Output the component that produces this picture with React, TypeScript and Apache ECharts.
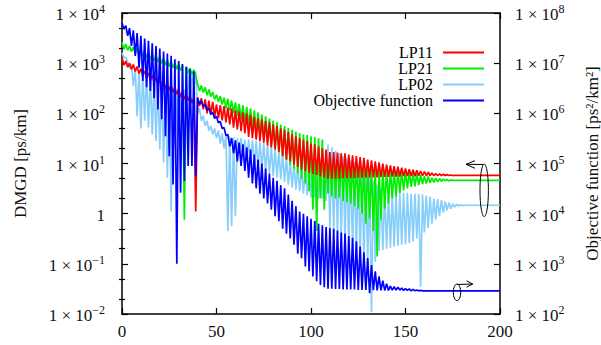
import React, { useEffect, useRef } from 'react';
import * as echarts from 'echarts';

// iteration index (x)
const ITERATIONS = Array.from({ length: 201 }, (_, i) => i);

// DMGD of LP11 [ps/km]
const LP11 = [
  1300, 910, 1100, 830, 1000, 750, 940, 680, 860, 620,
  780, 560, 700, 510, 640, 460, 580, 420, 530, 380,
  480, 350, 430, 310, 390, 290, 360, 260, 330, 240,
  300, 210, 270, 190, 240, 180, 220, 160, 200, 1.1,
  210, 140, 200, 120, 190, 100, 180, 95, 170, 85,
  150, 80, 145, 72, 140, 66, 130, 60, 125, 52,
  115, 48, 110, 44, 105, 40, 100, 34, 93, 32,
  85, 30, 80, 28, 76, 26, 70, 23, 66, 21,
  60, 19, 56, 17, 50, 14, 47, 12, 43, 11,
  38, 9.5, 35, 8.5, 32, 7.5, 30, 7.0, 28, 6.5,
  25, 6.2, 24, 5.9, 22, 5.5, 20, 5.2, 19, 5.0,
  17, 5.0, 17, 5.0, 16.5, 5.0, 16, 5.1, 16, 5.1,
  15, 5.1, 14.5, 5.1, 14, 5.2, 13.5, 5.2, 13, 5.2,
  12, 5.3, 11.5, 5.3, 11, 5.3, 10.5, 5.4, 10, 5.4,
  9.5, 5.4, 9.2, 5.5, 8.9, 5.5, 8.6, 5.5, 8.3, 5.6,
  8.0, 5.6, 7.7, 5.6, 7.5, 5.6, 7.3, 5.7, 7.1, 5.7,
  6.9, 5.7, 6.7, 5.7, 6.5, 5.7, 6.3, 5.7, 6.2, 5.75,
  6.1, 5.75, 6.0, 5.75, 5.9, 5.75, 5.8, 5.8, 5.8, 5.8,
  5.8, 5.8, 5.8, 5.8, 5.8, 5.8, 5.8, 5.8, 5.8, 5.8,
  5.8, 5.8, 5.8, 5.8, 5.8, 5.8, 5.8, 5.8, 5.8, 5.8,
  5.8,
];

// DMGD of LP21 [ps/km]
const LP21 = [
  2600, 1900, 2400, 1800, 2200, 1700, 2100, 1550, 2000, 1450,
  1860, 1350, 1740, 1290, 1620, 1200, 1510, 1120, 1410, 1050,
  1350, 980, 1260, 910, 1170, 850, 1100, 810, 1020, 760,
  955, 710, 910, 0.76, 850, 630, 790, 600, 740, 560,
  380, 280, 360, 260, 330, 230, 300, 215, 265, 190,
  235, 170, 220, 150, 205, 126, 195, 112, 180, 100,
  165, 89, 155, 76, 145, 66, 135, 58, 126, 50,
  115, 43, 105, 36, 95, 32, 87, 27, 79, 23,
  72, 20, 66, 16.6, 60, 14, 56, 11.7, 51, 9.5,
  47, 7.9, 43, 6.3, 40, 5.0, 38, 4.0, 37, 2.8,
  35, 1.2, 34, 0.45, 32, 2.0, 30, 1.2, 14, 2.5,
  14, 2.2, 13, 2.0, 12.6, 2.1, 12, 1.8, 11.5, 1.7,
  11, 1.6, 10.5, 1.4, 10, 1.26, 9.5, 1.0, 9.1, 0.63,
  8.9, 0.8, 8.7, 0.45, 8.5, 0.14, 8.3, 0.76, 8.1, 1.26,
  7.9, 1.6, 7.8, 2.0, 7.6, 2.2, 7.4, 2.6, 7.2, 2.9,
  7.1, 3.2, 6.8, 3.4, 6.5, 3.5, 6.2, 3.7, 5.9, 3.9,
  5.6, 4.0, 5.5, 4.1, 5.2, 4.2, 5.1, 4.3, 5.0, 4.4,
  4.9, 4.5, 4.8, 4.5, 4.7, 4.6, 4.6, 4.6, 4.6, 4.6,
  4.6, 4.6, 4.6, 4.6, 4.6, 4.6, 4.6, 4.6, 4.6, 4.6,
  4.6, 4.6, 4.6, 4.6, 4.6, 4.6, 4.6, 4.6, 4.6, 4.6,
  4.6,
];

// DMGD of LP02 [ps/km]
const LP02 = [
  1600, 1300, 1300, 1050, 790, 950, 350, 800, 87, 720,
  50, 650, 71, 600, 52, 540, 38, 490, 28, 450,
  19, 410, 10.5, 370, 5.2, 340, 1.1, 310, 25, 280,
  40, 260, 63, 300, 100, 790, 160, 700, 320, 690,
  100, 126, 71, 89, 56, 71, 45, 56, 38, 50,
  32, 45, 25, 40, 20, 38, 0.45, 35, 0.56, 33,
  0.89, 32, 16, 32, 14, 30, 11, 30, 10, 29,
  8.9, 28, 8.3, 27, 7.6, 26, 6.9, 24, 6.3, 22,
  5.6, 20, 5.2, 18, 4.8, 16, 4.3, 13, 3.8, 11,
  3.3, 10, 3.0, 8.9, 2.8, 8.3, 2.5, 7.9, 2.3, 7.9,
  2.1, 7.6, 2.1, 7.6, 2.0, 7.4, 2.0, 7.4, 1.8, 24,
  0.5, 21, 0.42, 18, 0.35, 16, 0.3, 14, 0.25, 12.6,
  0.21, 11.5, 0.18, 10.7, 0.16, 9.5, 0.13, 8.3, 0.11, 7.1,
  0.1, 5.6, 0.011, 4.5, 0.11, 3.8, 0.18, 3.2, 0.19, 2.7,
  0.2, 2.5, 0.21, 2.5, 0.22, 2.6, 0.23, 2.6, 0.24, 2.6,
  0.25, 2.6, 0.26, 2.5, 0.28, 2.5, 0.32, 2.5, 0.035, 2.4,
  0.42, 2.3, 0.52, 2.2, 0.63, 2.0, 0.76, 1.95, 0.89, 1.86,
  1.05, 1.74, 1.17, 1.66, 1.26, 1.58, 1.35, 1.55, 1.41, 1.51,
  1.45, 1.47, 1.47, 1.47, 1.47, 1.47, 1.47, 1.47, 1.47, 1.47,
  1.47, 1.47, 1.47, 1.47, 1.47, 1.47, 1.47, 1.47, 1.47, 1.47,
  1.47,
];

// Objective function [ps^2/km^2]
const OBJECTIVE = [
  6.3e7, 4.8e7, 5.6e7, 3.5e7, 5.0e7, 2.2e7, 4.5e7, 1.4e7, 4.0e7, 8.1e6,
  3.5e7, 4.4e6, 3.1e7, 3.3e6, 2.8e7, 2.8e6, 2.5e7, 2.0e6, 2.2e7, 1.2e6,
  1.95e7, 7.6e5, 1.7e7, 3.5e5, 1.55e7, 1.4e5, 1.4e7, 3.8e4, 1.2e7, 1.0e3,
  1.1e7, 2.6e4, 9.6e6, 4.5e4, 8.5e6, 8.9e4, 7.6e6, 8.9e4, 6.8e6, 5.6e4,
  2.0e6, 1.55e6, 1.75e6, 1.35e6, 1.5e6, 1.15e6, 1.26e6, 9.5e5, 1.05e6, 7.9e5,
  8.7e5, 6.5e5, 6.9e5, 5.0e5, 5.2e5, 3.6e5, 3.8e5, 2.2e5, 3.2e5, 1.6e5,
  2.9e5, 1.1e5, 2.6e5, 8.9e4, 2.4e5, 7.1e4, 2.1e5, 5.2e4, 1.9e5, 4.0e4,
  1.5e5, 3.2e4, 1.2e5, 2.5e4, 1.0e5, 2.0e4, 7.9e4, 1.6e4, 6.3e4, 1.2e4,
  5.2e4, 8.9e3, 4.5e4, 7.1e3, 3.7e4, 5.0e3, 3.2e4, 4.0e3, 2.4e4, 3.2e3,
  1.8e4, 2.4e3, 1.4e4, 1.6e3, 1.1e4, 1.3e3, 1.0e4, 890, 8.9e3, 710,
  7.9e3, 560, 7.1e3, 450, 6.3e3, 380, 5.9e3, 340, 5.4e3, 320,
  5.2e3, 320, 5.0e3, 316, 4.6e3, 316, 4.2e3, 310, 4.0e3, 310,
  3.6e3, 310, 3.3e3, 310, 2.8e3, 300, 2.2e3, 300, 1.7e3, 300,
  1.3e3, 260, 950, 300, 710, 295, 560, 295, 460, 295,
  400, 295, 360, 300, 350, 300, 340, 300, 330, 295,
  320, 295, 316, 290, 310, 290, 300, 290, 295, 290,
  290, 290, 290, 290, 290, 290, 290, 290, 290, 290,
  290, 290, 290, 290, 290, 290, 290, 290, 290, 290,
  290, 290, 290, 290, 290, 290, 290, 290, 290, 290,
  290, 290, 290, 290, 290, 290, 290, 290, 290, 290,
  290,
];

const LEGEND_NAMES = ['LP11', 'LP21', 'LP02', 'Objective function'];
const LEFT_MINOR = [0.02, 0.05, 0.2, 0.5, 2, 5, 20, 50, 200, 500, 2000, 5000];
const RIGHT_MINOR = [200, 500, 2e3, 5e3, 2e4, 5e4, 2e5, 5e5, 2e6, 5e6, 2e7, 5e7];

const FONT = 'Times New Roman';
const BLACK = '#000';
const TEXT = '#111';

const powLabel = (v: number) => {
  const e = Math.round(Math.log10(v));
  if (e === 0) return '{b|1}';
  const exp = e < 0 ? '\u2212' + String(-e) : String(e);
  return `{b|1 × 10}{s|${exp}}`;
};

const rich = {
  b: { fontSize: 17, fontFamily: FONT, color: TEXT, lineHeight: 20, verticalAlign: 'bottom' },
  s: { fontSize: 12, fontFamily: FONT, color: TEXT, lineHeight: 10, verticalAlign: 'top' },
};

const axisLineStyle = { color: BLACK, width: 1.5 };
const tickStyle = { color: BLACK, width: 1.2 };

function buildOption() {
  const mk = (name: string, values: number[], color: string, yAxisIndex: number) => ({
    type: 'line',
    name,
    yAxisIndex,
    data: values.map((v, i) => [ITERATIONS[i], v]),
    symbol: 'none',
    showSymbol: false,
    silent: true,
    lineStyle: { color, width: 1.7 },
    itemStyle: { color },
    emphasis: { disabled: true },
  });

  return {
    animation: false,
    backgroundColor: '#fff',
    textStyle: { fontFamily: FONT },
    grid: { left: 122, right: 101, top: 13, bottom: 31, containLabel: false, outerBoundsMode: 'none' },
    legend: LEGEND_NAMES.map((name, k) => ({
      data: [name],
      right: 117,
      top: 44.5 + k * 16,
      orient: 'vertical',
      align: 'right',
      icon: 'rect',
      itemWidth: 41,
      itemHeight: 2,
      padding: 0,
      selectedMode: false,
      textStyle: { fontSize: 16, fontFamily: FONT, color: BLACK, lineHeight: 16, padding: [0, 5, 0, 0] },
    })),
    xAxis: [
      {
        type: 'value', min: 0, max: 200, interval: 50, position: 'bottom',
        axisLine: { show: true, onZero: false, lineStyle: axisLineStyle },
        axisTick: { show: true, inside: true, length: 6, lineStyle: tickStyle },
        axisLabel: { fontSize: 17, fontFamily: FONT, color: TEXT, margin: 9 },
        splitLine: { show: false },
      },
      {
        type: 'value', min: 0, max: 200, interval: 50, position: 'top',
        axisLine: { show: true, onZero: false, lineStyle: axisLineStyle },
        axisTick: { show: true, inside: true, length: 6, lineStyle: tickStyle },
        axisLabel: { show: false },
        splitLine: { show: false },
      },
    ],
    yAxis: [
      {
        type: 'log', logBase: 10, min: 0.01, max: 1e4, position: 'left',
        axisLine: { show: true, onZero: false, lineStyle: axisLineStyle },
        axisTick: { show: true, inside: true, length: 6, lineStyle: tickStyle },
        axisLabel: { formatter: powLabel, rich, margin: 17 },
        splitLine: { show: false },
        name: 'DMGD [ps/km]',
        nameLocation: 'middle',
        nameGap: 93,
        nameRotate: 90,
        nameTextStyle: { fontSize: 17, fontFamily: FONT, color: TEXT },
      },
      {
        type: 'log', logBase: 10, min: 1e2, max: 1e8, position: 'right',
        axisLine: { show: true, onZero: false, lineStyle: axisLineStyle },
        axisTick: { show: true, inside: true, length: 6, lineStyle: tickStyle },
        axisLabel: { formatter: powLabel, rich, margin: 15 },
        splitLine: { show: false },
        name: 'Objective function [ps²/km²]',
        nameLocation: 'middle',
        nameGap: 84,
        nameRotate: 90,
        nameTextStyle: { fontSize: 17, fontFamily: FONT, color: TEXT },
      },
      {
        type: 'log', logBase: 10, min: 0.01, max: 1e4, position: 'left',
        axisLine: { show: false },
        axisTick: { show: true, inside: true, length: 3, customValues: LEFT_MINOR, lineStyle: tickStyle },
        axisLabel: { show: false },
        splitLine: { show: false },
      },
      {
        type: 'log', logBase: 10, min: 1e2, max: 1e8, position: 'right',
        axisLine: { show: false },
        axisTick: { show: true, inside: true, length: 3, customValues: RIGHT_MINOR, lineStyle: tickStyle },
        axisLabel: { show: false },
        splitLine: { show: false },
      },
    ],
    graphic: [
      { type: 'ellipse', shape: { cx: 484.2, cy: 190.3, rx: 4.2, ry: 26.3 }, style: { fill: 'none', stroke: BLACK, lineWidth: 1 }, z: 100 },
      { type: 'polyline', shape: { points: [[483, 164.5], [466, 164.3]] }, style: { fill: 'none', stroke: BLACK, lineWidth: 1 }, z: 100 },
      { type: 'polyline', shape: { points: [[475, 160.7], [466, 164.3], [475, 168.3]] }, style: { fill: 'none', stroke: BLACK, lineWidth: 1 }, z: 100 },
      { type: 'ellipse', shape: { cx: 457, cy: 292.3, rx: 3.7, ry: 8.3 }, style: { fill: 'none', stroke: BLACK, lineWidth: 1 }, z: 100 },
      { type: 'polyline', shape: { points: [[457.3, 284.5], [472.7, 284]] }, style: { fill: 'none', stroke: BLACK, lineWidth: 1 }, z: 100 },
      { type: 'polyline', shape: { points: [[466.5, 280.8], [472.7, 284], [466.5, 287.2]] }, style: { fill: 'none', stroke: BLACK, lineWidth: 1 }, z: 100 },
    ],
    series: [
      mk('LP02', LP02, '#87cefa', 0),
      mk('LP21', LP21, '#00ee00', 0),
      mk('LP11', LP11, '#ff0000', 0),
      mk('Objective function', OBJECTIVE, '#0000ff', 1),
    ],
  };
}

export default function App() {
  const ref = useRef<HTMLDivElement>(null);
  useEffect(() => {
    if (!ref.current) return;
    const chart = echarts.init(ref.current, null, { renderer: 'svg' });
    chart.setOption(buildOption() as any);
    return () => chart.dispose();
  }, []);
  return (
    <div
      ref={ref}
      style={{ position: 'fixed', left: 0, top: 0, width: 601, height: 345, background: '#fff' }}
    />
  );
}
